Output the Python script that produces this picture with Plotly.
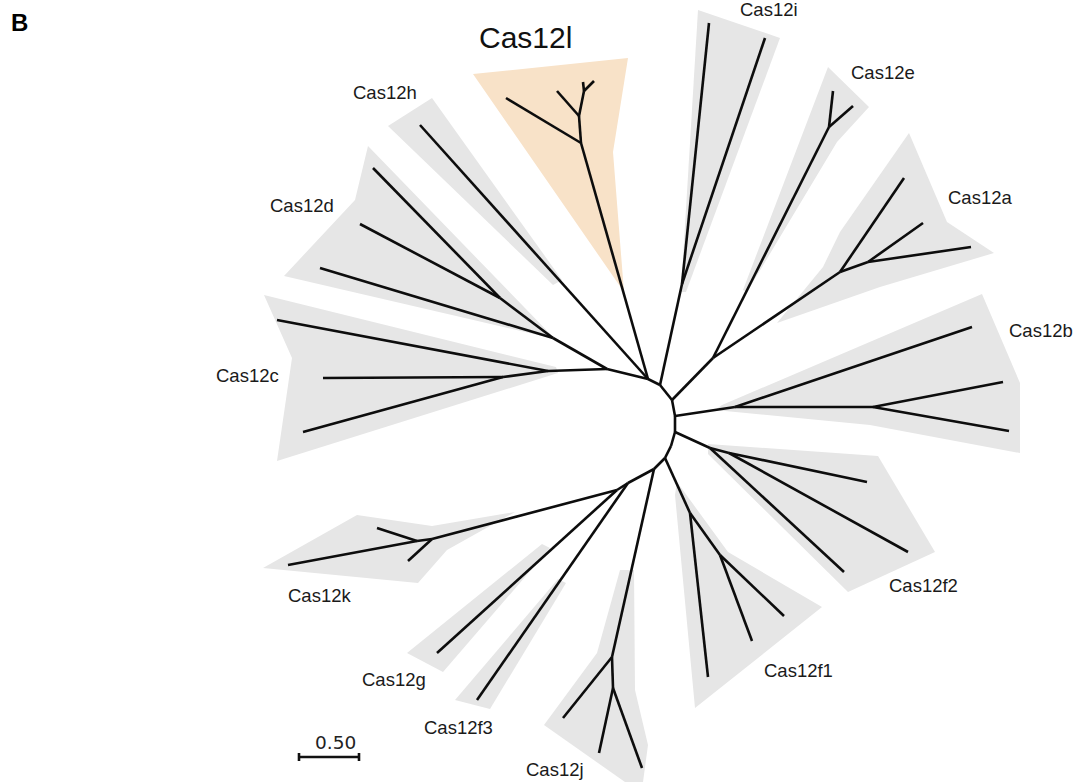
import plotly.graph_objects as go

# ---------------- tree nodes (pixel layout of the unrooted tree) ----------------
node_names = [
    "A", "B", "C", "D", "E", "EF", "F", "G", "H", "I",
    "DC", "Dn2", "Dn1", "d1", "d2", "d3", "Cn1", "Cn2", "c1", "c2", "c3",
    "h1",
    "Ln1", "Ln2", "Ln3", "l1", "l2", "l3", "l4",
    "In", "i1", "i2",
    "EA", "En", "e1", "e2", "An1", "An2", "a1", "a2", "a3",
    "Bn1", "Bn2", "b1", "b2", "b3",
    "F2n1", "F2n2", "f2a", "f2b", "f2c",
    "F1n1", "F1n2", "f1a", "f1b", "f1c",
    "Jn1", "Jn2", "j1", "j2", "j3",
    "f3", "g1",
    "K1", "K2", "k1", "k2", "k3",
]
node_x = [
    648, 660, 672, 675, 675, 671, 665, 654, 628, 617,
    607, 553, 500, 373, 360, 320, 548, 503, 277, 323, 303,
    420,
    581, 579, 584, 506, 557, 583, 594,
    682, 709, 765,
    713, 829, 833, 853, 840, 868, 904, 923, 971,
    735, 873, 972, 1003, 1009,
    710, 729, 867, 908, 844,
    690, 720, 708, 752, 784,
    612, 613, 563, 599, 642,
    477, 437,
    432, 417, 377, 288, 408,
]
node_y = [
    379, 385, 400, 416, 432, 446, 458, 469, 483, 490,
    369, 338, 298, 168, 224, 268, 371, 377, 320, 378, 432,
    125,
    143, 116, 91, 98, 91, 82, 81,
    284, 23, 38,
    358, 127, 91, 106, 272, 262, 178, 223, 247,
    407, 407, 327, 382, 431,
    448, 453, 482, 552, 572,
    513, 555, 677, 641, 616,
    657, 688, 718, 753, 768,
    700, 653,
    539, 541, 528, 565, 561,
]
edge_from = [
    "A", "B", "C", "D", "E", "EF", "F", "G", "H",
    "A", "DC", "Dn2", "Dn1", "Dn1", "Dn2", "DC", "Cn1", "Cn1", "Cn2", "Cn2",
    "A",
    "A", "Ln1", "Ln1", "Ln2", "Ln2", "Ln3", "Ln3",
    "B", "In", "In",
    "C", "EA", "En", "En", "EA", "An1", "An1", "An2", "An2",
    "D", "Bn1", "Bn1", "Bn2", "Bn2",
    "E", "F2n1", "F2n2", "F2n2", "F2n1",
    "F", "F1n1", "F1n1", "F1n2", "F1n2",
    "G", "Jn1", "Jn1", "Jn2", "Jn2",
    "H", "I",
    "I", "K1", "K2", "K2", "K1",
]
edge_to = [
    "B", "C", "D", "E", "EF", "F", "G", "H", "I",
    "DC", "Dn2", "Dn1", "d1", "d2", "d3", "Cn1", "c1", "Cn2", "c2", "c3",
    "h1",
    "Ln1", "l1", "Ln2", "l2", "Ln3", "l3", "l4",
    "In", "i1", "i2",
    "EA", "En", "e1", "e2", "An1", "a1", "An2", "a2", "a3",
    "Bn1", "b1", "Bn2", "b2", "b3",
    "F2n1", "F2n2", "f2a", "f2b", "f2c",
    "F1n1", "f1a", "F1n2", "f1b", "f1c",
    "Jn1", "j1", "Jn2", "j2", "j3",
    "f3", "g1",
    "K1", "K2", "k1", "k2", "k3",
]

# ---------------- clade hulls ----------------
hull_names = ["Cas12l", "Cas12h", "Cas12d", "Cas12c", "Cas12i", "Cas12e", "Cas12a",
              "Cas12b", "Cas12f2", "Cas12f1", "Cas12j", "Cas12f3", "Cas12g", "Cas12k"]
hull_x = [
    [473, 628, 613, 624],
    [388, 432, 562, 553],
    [368, 355, 284, 555],
    [264, 292, 277, 558, 556],
    [698, 780, 686, 681],
    [828, 869, 837, 747, 743],
    [909, 947, 994, 880, 777, 823, 840],
    [982, 1020, 1020, 870, 715, 722],
    [708, 878, 935, 848, 708],
    [677, 728, 822, 695, 675],
    [544, 597, 620, 634, 635, 648, 643, 625],
    [455, 490, 566, 558],
    [407, 443, 550, 542],
    [263, 357, 432, 515, 447, 418],
]
hull_y = [
    [74, 58, 152, 292],
    [126, 98, 280, 285],
    [146, 200, 276, 339],
    [295, 358, 461, 373, 367],
    [10, 38, 292, 292],
    [67, 107, 142, 292, 290],
    [133, 222, 253, 287, 323, 267, 232],
    [294, 383, 453, 425, 410, 405],
    [444, 456, 552, 592, 454],
    [482, 552, 607, 708, 495],
    [725, 653, 570, 570, 690, 745, 782, 782],
    [700, 709, 583, 579],
    [653, 672, 548, 544],
    [568, 515, 526, 512, 550, 583],
]
hull_colors = ["#f8e2c8"] + ["#e6e6e6"] * 13

# ---------------- labels ----------------
label_text = ["Cas12i", "Cas12e", "Cas12a", "Cas12b", "Cas12f2", "Cas12f1", "Cas12j",
              "Cas12f3", "Cas12g", "Cas12k", "Cas12c", "Cas12d", "Cas12h"]
label_x = [769, 883, 980, 1041, 923, 798, 555, 458, 394, 319, 247, 302, 385]
label_y = [9, 72, 197, 330, 585, 670, 769, 727, 679, 595, 375, 205, 92]
title_text = "Cas12l"
title_xy = (525, 37)
panel_letter = "B"

# scale bar: 60 px corresponds to 0.50 substitutions/site
scale_label = "0.50"
scale_x = [299, 359]
scale_y = 757

pos = {n: (x, y) for n, x, y in zip(node_names, node_x, node_y)}

fig = go.Figure()

for name, xs, ys, col in zip(hull_names, hull_x, hull_y, hull_colors):
    fig.add_trace(go.Scatter(x=xs + [xs[0]], y=ys + [ys[0]], mode="lines",
                             fill="toself", fillcolor=col, line=dict(width=0, color=col),
                             hoverinfo="skip", name=name, showlegend=False))

ex, ey = [], []
for a, b in zip(edge_from, edge_to):
    ex += [pos[a][0], pos[b][0], None]
    ey += [pos[a][1], pos[b][1], None]
fig.add_trace(go.Scatter(x=ex, y=ey, mode="lines",
                         line=dict(color="#0d0d0d", width=2.6),
                         hoverinfo="skip", showlegend=False))

# scale bar
fig.add_trace(go.Scatter(
    x=[scale_x[0], scale_x[1], None, scale_x[0], scale_x[0], None, scale_x[1], scale_x[1]],
    y=[scale_y, scale_y, None, scale_y - 4, scale_y + 4, None, scale_y - 4, scale_y + 4],
    mode="lines", line=dict(color="#111111", width=2.6), hoverinfo="skip", showlegend=False))

annots = []
for t, x, y in zip(label_text, label_x, label_y):
    annots.append(dict(x=x, y=y, text=t, showarrow=False, xanchor="center", yanchor="middle",
                       font=dict(family="Liberation Sans, Arial", size=18.5, color="#1a1a1a")))
annots.append(dict(x=title_xy[0], y=title_xy[1], text=title_text, showarrow=False,
                   xanchor="center", yanchor="middle",
                   font=dict(family="Liberation Sans, Arial", size=30, color="#111111")))
annots.append(dict(x=19, y=22, text="<b>" + panel_letter + "</b>", showarrow=False,
                   xanchor="center", yanchor="middle",
                   font=dict(family="Liberation Sans, Arial", size=24, color="#000000")))
annots.append(dict(x=(scale_x[0] + scale_x[1]) / 2 + 6, y=scale_y - 15, text=scale_label,
                   showarrow=False, xanchor="center", yanchor="middle",
                   font=dict(family="DejaVu Sans", size=18.5, color="#222222")))

fig.update_layout(
    width=1076, height=782,
    margin=dict(l=0, r=0, t=0, b=0),
    paper_bgcolor="white", plot_bgcolor="white",
    xaxis=dict(range=[0, 1076], visible=False, fixedrange=True),
    yaxis=dict(range=[782, 0], visible=False, fixedrange=True),
    annotations=annots,
    showlegend=False,
)

fig.write_html("out.html", post_script="document.body.style.margin='0';",
               config={"displayModeBar": False})
